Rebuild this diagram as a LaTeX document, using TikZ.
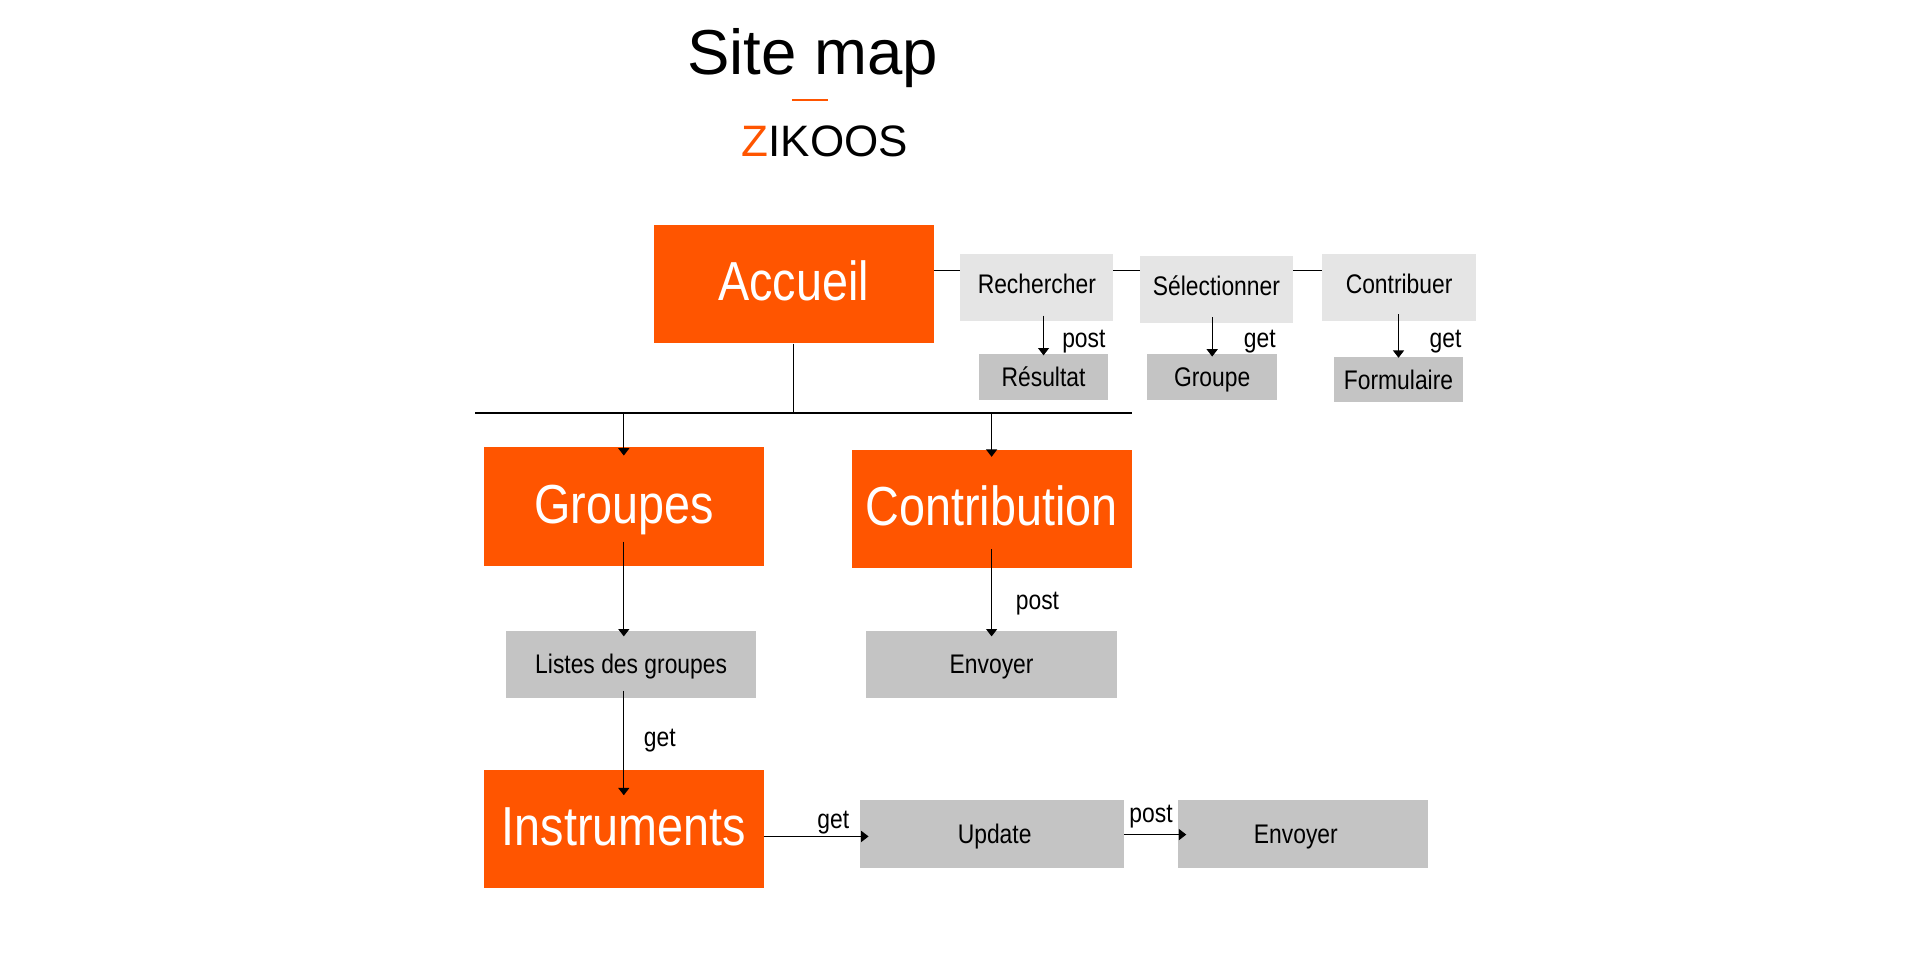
\documentclass[tikz,border=0pt]{standalone}
\usepackage{fontspec}
\setmainfont{Liberation Sans}
\newfontfamily\cond[FakeStretch=0.85]{Liberation Sans}
\usetikzlibrary{arrows.meta}
\definecolor{zorange}{RGB}{255,85,0}
\definecolor{lgray}{RGB}{229,229,229}
\definecolor{mgray}{RGB}{196,196,196}
\tikzset{
  bigbox/.style={fill=zorange, text=white, font=\cond\fontsize{45}{50}\selectfont,
    minimum width=229pt, minimum height=97pt, inner sep=0pt, text height=27pt, text depth=0pt},
  smallbox/.style={font=\cond\fontsize{22}{26}\selectfont, inner sep=0pt,
    text height=16pt, text depth=0pt},
  topbox/.style={smallbox, fill=lgray, minimum width=125pt, minimum height=55pt, text height=9pt},
  resbox/.style={smallbox, fill=mgray, minimum width=106pt, minimum height=37pt},
  subbox/.style={smallbox, fill=mgray, minimum width=205pt, minimum height=55pt},
  lbl/.style={font=\cond\fontsize{22}{26}\selectfont, anchor=base, inner sep=0pt},
  conn/.style={line width=0.9pt},
  arr/.style={line width=0.9pt, -{Triangle[width=9pt,length=6pt]}},
}
\begin{document}
\begin{tikzpicture}[x=1pt,y=-1pt]
\useasboundingbox (0,0) rectangle (1568,780);

% title
\node[anchor=base, inner sep=0pt, font=\fontsize{52}{60}\selectfont] (title) at (665,61) {Site map};
\coordinate (ul) at (648,82);
\coordinate (ur) at (678,82);
\draw[zorange, line width=1.5pt] (ul) -- (ur);
\node[anchor=base, inner sep=0pt, font=\fontsize{36}{42}\selectfont] (brand) at (675,128) {\textcolor{zorange}{Z}IKOOS};

% top row
\node[bigbox] (accueil) at (649.5,232.5) {Accueil};
\node[topbox] (rech) at (848.5,235.5) {Rechercher};
\node[topbox] (sel) at (995.5,237) {Sélectionner};
\node[topbox, minimum width=126pt] (contr) at (1145,235.5) {Contribuer};
\node[resbox] (res) at (854,308.5) {Résultat};
\node[resbox] (grp) at (992,308.5) {Groupe};
\node[resbox, minimum width=105pt] (form) at (1144.5,310.5) {Formulaire};

\coordinate (r1) at (800,221);
\draw[conn] (r1 -| accueil.east) -- (r1 -| rech.west);
\draw[conn] (r1 -| rech.east) -- (r1 -| sel.west);
\draw[conn] (r1 -| sel.east) -- (r1 -| contr.west);

\draw[arr] ([yshift=5pt]res.north |- rech.south) -- ([yshift=-1pt]res.north);
\node[lbl] (p1) at (887,284) {post};
\draw[arr] ([yshift=5pt]grp.north |- sel.south) -- ([yshift=-2pt]grp.north);
\node[lbl] (g1) at (1031,284) {get};
\draw[arr] ([yshift=6pt]form.north |- contr.south) -- ([yshift=-1pt]form.north);
\node[lbl] (g2) at (1183,284) {get};

% tree
\coordinate (hl) at (389,338);
\coordinate (hr) at (926,338);
\draw[conn] (accueil.south) -- (accueil.south |- hl);
\draw[conn] (hl) -- (hr);

\node[bigbox] (groupes) at (510.5,414.5) {Groupes};
\node[bigbox] (contrib) at (811.5,416.5) {Contribution};
\draw[arr] (groupes.north |- hl) -- ([yshift=-7pt]groupes.north);
\draw[arr] (contrib.north |- hr) -- ([yshift=-6pt]contrib.north);

\node[subbox] (listes) at (516.5,543.5) {Listes des groupes};
\node[subbox] (env1) at (811.5,543.5) {Envoyer};
\draw[arr] ([yshift=20pt]groupes.south) -- ([yshift=-5pt]listes.north -| groupes.south);
\draw[arr] ([yshift=16pt]contrib.south) -- ([yshift=-5pt]env1.north);
\node[lbl] (p2) at (849,499) {post};

\node[bigbox] (instr) at (510.5,678.5) {Instruments};
\draw[arr] ([yshift=6pt]listes.south -| instr.north) -- ([yshift=-21pt]instr.north);
\node[lbl] (g3) at (540,611) {get};

\node[subbox, minimum width=216pt] (update) at (812,682.5) {\hspace*{4pt}Update};
\node[subbox] (env2) at (1066.5,682.5) {Envoyer\hspace*{12pt}};
\coordinate (hy) at (700,684.5);
\draw[arr] (hy -| instr.east) -- ([xshift=7pt]hy -| update.west);
\node[lbl] (g4) at (682,678) {get};
\coordinate (hy2) at (940,683);
\draw[arr] (hy2 -| update.east) -- ([xshift=7pt]hy2 -| env2.west);
\node[lbl] (p3) at (942,673) {post};
\end{tikzpicture}
\end{document}
